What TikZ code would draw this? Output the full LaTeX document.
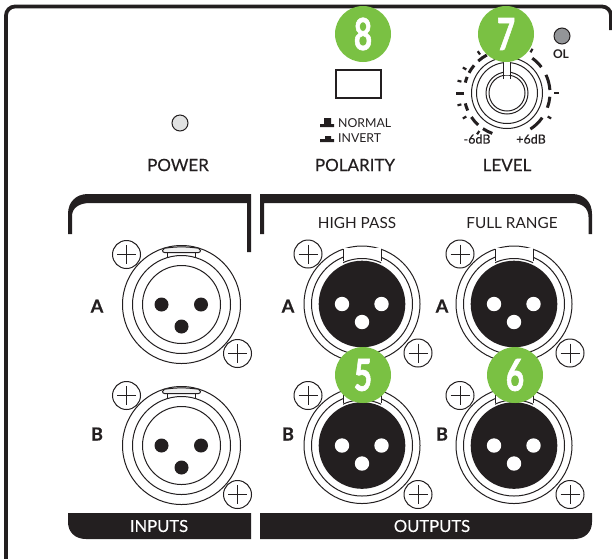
\documentclass[tikz,border=0pt]{standalone}
\usepackage{fontspec}
\setmainfont{Lato}
\newfontfamily\medfont[FakeBold=0.35]{Lato}
\newfontfamily\digitfont[BoldFeatures={FakeBold=1.6}]{Lato}
\newfontfamily\letterfont[BoldFeatures={FakeBold=0.6}]{Lato}
\usetikzlibrary{positioning, calc}
\definecolor{panelblack}{RGB}{35, 31, 32}
\definecolor{badgegreen}{RGB}{122, 193, 67}
\definecolor{ledgray}{RGB}{147, 149, 152}
\definecolor{ledlight}{RGB}{225, 226, 226}
\tikzstyle{ring} = [draw=panelblack, line width=1pt, fill=white]
\tikzstyle{badge} = [circle, minimum size=56pt, inner sep=0pt, fill=badgegreen, text=white, font=\fontsize{44}{44}\digitfont\bfseries]
\tikzstyle{ctrl} = [text=panelblack, font=\fontsize{17}{17}\medfont, inner sep=0pt]
\tikzstyle{small} = [text=panelblack, font=\fontsize{15.3}{15}\selectfont, inner sep=0pt]
\tikzstyle{tiny} = [text=panelblack, font=\fontsize{12.3}{12}\selectfont, inner sep=0pt]
\tikzstyle{letter} = [text=panelblack, font=\fontsize{18}{18}\letterfont\bfseries, inner sep=0pt]
\tikzstyle{band} = [text=white, font=\fontsize{16.6}{16}\medfont, inner sep=0pt]
\tikzstyle{led} = [circle, draw=panelblack, line width=1pt, minimum size=16pt, inner sep=0pt]
% screw head
\newcommand{\screw}[1]{
  \draw [ring] (#1) circle (14);
  \draw [panelblack, line width=1pt] ($(#1)+(-9.5,0)$) -- ($(#1)+(9.5,0)$) ($(#1)+(0,-9.5)$) -- ($(#1)+(0,9.5)$);
}
% female connector
\newcommand{\xlrin}[2]{
  \begin{scope}[shift={(#1,#2)}]
    \draw [ring] (0,0) circle (59);
    \draw [ring] (0,0) circle (49);
    \draw [ring] (0,0) circle (39);
    \fill [panelblack] (-20,0) circle (7) (19.5,0) circle (7) (0,22) circle (7);
    \draw [ring] (-14,-52) -- (-14,-46.8) (14,-52) -- (14,-46.8);
    \draw [ring, rounded corners=2pt, fill=ledlight!50] (-19,-52) -- (-19,-56) to[bend left=8] (19,-56) -- (19,-52) -- cycle;
  \end{scope}
  \screw{$(#1,#2)+(-55,-50)$}
  \screw{$(#1,#2)+(56,49)$}
}
% male connector
\newcommand{\xlrout}[2]{
  \begin{scope}[shift={(#1,#2)}]
    \draw [ring] (0,0) circle (58);
    \draw [ring] (0,0) circle (50.5);
    \fill [white] (-19,-56) rectangle (19,-45);
    \draw [panelblack, line width=1pt] (-19,-55.5) -- (-19,-43) (19,-55.5) -- (19,-43);
    \begin{scope}
      \clip (-19,-50) rectangle (19,-40);
      \draw [panelblack, line width=1pt] (0,0) circle (45.5);
    \end{scope}
    \fill [panelblack] (0,0) circle (43.3);
    \fill [white] (-20,0) circle (7.2) (19.5,0) circle (7.2) (0,18) circle (7.2);
  \end{scope}
  \screw{$(#1,#2)+(-54,-50)$}
  \screw{$(#1,#2)+(56,49)$}
}
\begin{document}
\begin{tikzpicture}[x=1pt, y=-1pt]
\useasboundingbox (0,0) rectangle (612,558);

% panel edge
\draw [panelblack, line width=3.8pt, rounded corners=9pt] (6,560) -- (6,6.5) -- (611,6.5) -- (611,30);
\fill [white] (612,14) rectangle (620,40);

% brackets
\fill [panelblack] (68,234) -- (68,214) .. controls (68,202) and (76,194) .. (88,194) -- (251,194) -- (251,252) -- (247,252) -- (247,203) -- (90,203) .. controls (79,203) and (72,208) .. (72,216) -- (72,234) -- cycle;
\fill [panelblack] (260,234) -- (260,194) -- (572,194) .. controls (584,194) and (592,202) .. (592,214) -- (592,234) -- (588.5,234) -- (588.5,217) .. controls (588.5,208) and (582,203) .. (572,203) -- (264,203) -- (264,234) -- cycle;

% labels in the bands
\fill [panelblack] (68,513) -- (251,513) -- (251,539) -- (86,539) .. controls (75,539) and (68,532) .. (68,522) -- cycle;
\fill [panelblack] (260,513) -- (592,513) -- (592,522) .. controls (592,532) and (585,539) .. (574,539) -- (260,539) -- cycle;
\node (inputs) [band] at (159,526) {INPUTS};
\node (outputs) [band] at (432,526) {OUTPUTS};

% connectors
\xlrin{181.5}{304.5}
\xlrin{181.5}{445.5}
\xlrout{362}{304}
\xlrout{514}{304}
\xlrout{362}{445.5}
\xlrout{514}{445.5}

\node (rowa1) [letter] at (97,306) {A};
\node (rowb1) [letter] at (97,434) {B};
\node (rowa2) [letter] at (288,306) {A};
\node (rowb2) [letter] at (288,434) {B};
\node (rowa3) [letter] at (442,306) {A};
\node (rowb3) [letter] at (442,434) {B};
\node (highpass) [small] at (357,223) {HIGH PASS};
\node (fullrange) [small] at (512,223) {FULL RANGE};

% top row
\node (powerled) [led, fill=ledlight] at (180,123) {};
\node (power) [ctrl] at (178,165) {POWER};
\node (polarity) [ctrl] at (355,165) {POLARITY};
\node (level) [ctrl] at (507,165) {LEVEL};
\node (switch) [draw=panelblack, line width=2pt, minimum width=45pt, minimum height=28pt, inner sep=0pt] at (358.5,84) {};
\fill [panelblack] (324,118) rectangle (331,124) (320,124) rectangle (334,127);
\fill [panelblack] (325,136) rectangle (331,139) (320,139) rectangle (334,142);
\node (normal) [tiny, anchor=west] at (338,123) {NORMAL};
\node (invert) [tiny, anchor=west] at (338,138) {INVERT};
\node (olled) [led, fill=ledgray] at (562,36) {};
\node (ol) [tiny, font=\fontsize{12}{12}\selectfont\bfseries] at (561,54) {OL};
\node (minus) [tiny, font=\fontsize{12.5}{12}\medfont] at (477,139) {-6dB};
\node (plus) [tiny, font=\fontsize{12.5}{12}\medfont] at (531,139) {+6dB};

% level knob
\begin{scope}[shift={(507,93)}, x=1pt, y=1pt]
  \foreach \r in {35.5,30.5,21,18}
    \draw [ring, fill=none] (0,0) circle (\r);
  \fill [white] (-3,18) rectangle (3,40);
  \draw [panelblack, line width=1pt] (-3.2,14) -- (-3.2,30) (3.2,14) -- (3.2,30);
  \foreach \a/\b in {54/37, 25/4, -5/-20, -35/-57, 118/132, 140/152, 158/166, 194/204, 214/228, 236/250}
    \draw [panelblack, line width=3pt] (\a:43) arc [start angle=\a, end angle=\b, radius=43pt];
  \foreach \a in {60, -30, 125, 150, 166, 194, 210, 234}
    \draw [panelblack, line width=2.2pt] (\a:47) -- (\a:51);
  \draw [panelblack, line width=2.4pt] (0:47) -- (0:52);
  \draw [panelblack, line width=3pt] (180:43) -- (180:51);
\end{scope}

% badges
\node (badge8) [badge] at (363,34) {\scalebox{.72}[1]{8}};
\node (badge7) [badge] at (506,34) {\scalebox{.72}[1]{7}};
\node (badge5) [badge] at (363,375) {\scalebox{.72}[1]{5}};
\node (badge6) [badge] at (515,375) {\scalebox{.72}[1]{6}};

\end{tikzpicture}
\end{document}
